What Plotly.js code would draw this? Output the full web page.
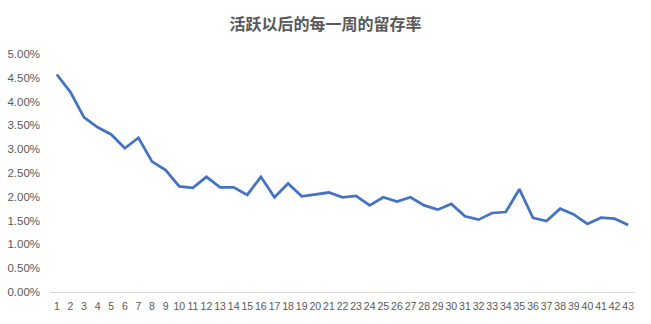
<!DOCTYPE html>
<html><head><meta charset="utf-8">
<script src="https://cdn.plot.ly/plotly-3.0.1.min.js"></script>
<style>html,body{margin:0;padding:0;background:#fff}#chart{width:651px;height:324px}</style>
</head><body><div id="chart"></div>
<script>
const chartTitle = "活跃以后的每一周的留存率";
const weeks = ["1","2","3","4","5","6","7","8","9","10","11","12","13","14","15","16","17","18","19","20","21","22","23","24","25","26","27","28","29","30","31","32","33","34","35","36","37","38","39","40","41","42","43"];
const retention = [0.0457,0.0420,0.0367,0.0346,0.0331,0.0302,0.0324,0.0274,0.0256,0.0222,0.0219,0.0242,0.0220,0.0220,0.0204,0.0242,0.0199,0.0228,0.0201,0.0205,0.0209,0.0199,0.0202,0.0182,0.0199,0.0190,0.0199,0.0182,0.0173,0.0185,0.0159,0.0152,0.0166,0.0168,0.0216,0.0156,0.0149,0.0175,0.0163,0.0143,0.0156,0.0154,0.0141];
const yTicks = [0,0.005,0.01,0.015,0.02,0.025,0.03,0.035,0.04,0.045,0.05];

Plotly.newPlot('chart', [{
  type: 'scatter', mode: 'lines', x: weeks, y: retention,
  line: {color: '#4472C4', width: 2.75}, hoverinfo: 'skip'
}], {
  width: 651, height: 324,
  margin: {l: 50, r: 16, t: 54, b: 32},
  paper_bgcolor: '#fff', plot_bgcolor: '#fff',
  showlegend: false,
  title: {text: chartTitle, x: 0.5, xanchor: 'center', y: 0.925, yanchor: 'middle',
    font: {family: 'Noto Sans CJK SC, sans-serif', size: 16, color: '#595959', weight: 'bold'}},
  xaxis: {type: 'category', tickmode: 'array', tickvals: weeks, ticktext: weeks,
    showgrid: false, zeroline: false, showline: true, linecolor: '#d9d9d9', linewidth: 1,
    ticks: '', tickangle: 0, ticklabelstandoff: 4,
    tickfont: {family: 'Liberation Sans, Arial, sans-serif', size: 10.5, color: '#595959'},
    range: [-0.5, 42.5]},
  yaxis: {range: [0, 0.05], tickmode: 'array', tickvals: yTicks, tickformat: '.2%',
    showgrid: false, zeroline: false, showline: false, ticks: '', ticklabelstandoff: 9,
    tickfont: {family: 'Liberation Sans, Arial, sans-serif', size: 11.5, color: '#595959'}}
}, {displayModeBar: false, staticPlot: true});
</script></body></html>
